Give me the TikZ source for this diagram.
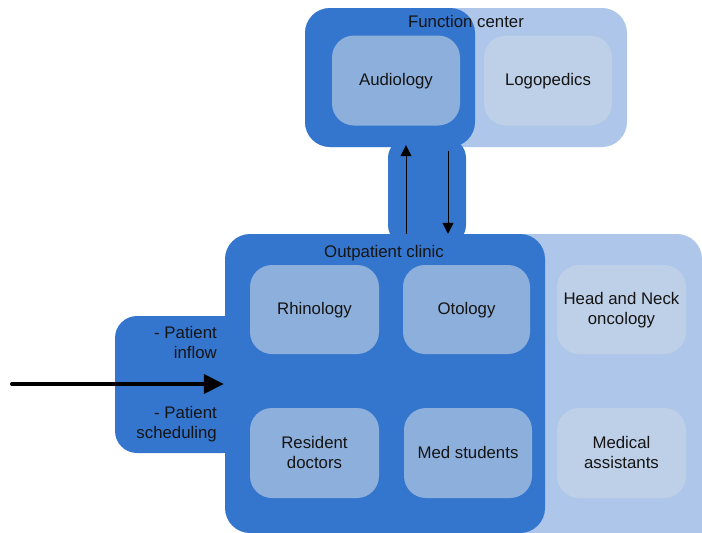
\documentclass[tikz,border=0pt]{standalone}
\usepackage{fontspec}
\setmainfont{Liberation Sans}
\usetikzlibrary{arrows.meta}
\definecolor{deepblue}{RGB}{52,118,205}
\definecolor{paleblue}{RGB}{173,198,233}
\definecolor{midblue}{RGB}{141,175,220}
\definecolor{softblue}{RGB}{190,208,232}
\definecolor{inkcol}{RGB}{20,20,20}
\begin{document}
\begin{tikzpicture}[x=1pt,y=-1pt,
  font=\fontsize{16.8}{20}\selectfont,
  panel/.style={rounded corners=25pt, inner sep=0pt, draw=none, anchor=center},
  tile/.style={rounded corners=22pt, inner sep=0pt, draw=none, anchor=center,
               minimum width=128pt, minimum height=90pt},
  caption/.style={inner sep=0pt, text=inkcol, align=center},
  tiletext/.style={caption, yshift=-1.4pt},
  smallarrow/.style={line width=1pt, -{Triangle[length=11pt,width=11pt]}},
  bigarrow/.style={line width=4pt, line cap=round, -{Triangle[length=20pt,width=19pt]}}]
\useasboundingbox (0,0) rectangle (702,533);
\clip (0,0) rectangle (702,533);

% Function center
\node[panel, fill=paleblue, minimum width=322pt, minimum height=139pt] (fcback) at (466,77.5) {};
\node[panel, fill=deepblue, minimum width=170pt, minimum height=139pt] (fcdark) at (390,77.5) {};
\node[caption, anchor=base] (fctitle) at (466,27.7) {Function center};
\node[tile, fill=midblue, label={[tiletext]center:{\strut Audiology}}] (audio) at (396,80.5) {};
\node[tile, fill=softblue, label={[tiletext]center:{\strut Logopedics}}] (logo) at (548,80.5) {};

% Link between the two units
\node[panel, rounded corners=20pt, fill=deepblue, minimum width=78pt, minimum height=107pt] (link) at (427,191.5) {};

% Outpatient clinic
\node[panel, fill=paleblue, minimum width=402pt, minimum height=326pt] (opback) at (501,397) {};
\node[panel, rounded corners=22pt, fill=deepblue, minimum width=130pt, minimum height=137pt] (patient) at (180,384.5) {};
\node[panel, fill=deepblue, minimum width=320pt, minimum height=299pt] (opdark) at (385,383.5) {};
\node[caption, anchor=base] (optitle) at (384,257.7) {Outpatient clinic};

\node[tile, fill=midblue, minimum width=129pt, minimum height=89pt,
      label={[tiletext]center:{\strut Rhinology}}] (rhino) at (314.5,309.5) {};
\node[tile, fill=midblue, minimum width=127pt, minimum height=89pt,
      label={[tiletext]center:{\strut Otology}}] (oto) at (466.5,309.5) {};
\node[tile, fill=midblue, minimum width=129pt,
      label={[tiletext]center:{\strut Resident\\\strut doctors}}] (resid) at (314.5,453) {};
\node[tile, fill=midblue,
      label={[tiletext]center:{\strut Med students}}] (meds) at (468,453) {};
\node[tile, fill=softblue, minimum width=129pt, minimum height=89pt,
      label={[tiletext]center:{\strut Head and Neck\\\strut oncology}}] (hn) at (621.5,309.5) {};
\node[tile, fill=softblue, minimum width=129pt,
      label={[tiletext]center:{\strut Medical\\\strut assistants}}] (assist) at (621.5,453) {};

% Patient flow labels
\node[caption, anchor=east, align=right] (inflow) at (217,344.2) {\strut - Patient\\\strut inflow};
\node[caption, anchor=east, align=right] (sched) at (217,424.6) {\strut - Patient\\\strut scheduling};

% Arrows
\coordinate (upx) at (406,0);
\coordinate (dnx) at (448,0);
\coordinate (src) at (12,384);
\draw[smallarrow] (opdark.north -| upx) -- ([yshift=2pt]fcdark.south -| upx);
\draw[smallarrow] ([yshift=-4pt]fcdark.south -| dnx) -- (opdark.north -| dnx);
\draw[bigarrow] (src) -- ([xshift=-1pt]opdark.west |- src);
\end{tikzpicture}
\end{document}
